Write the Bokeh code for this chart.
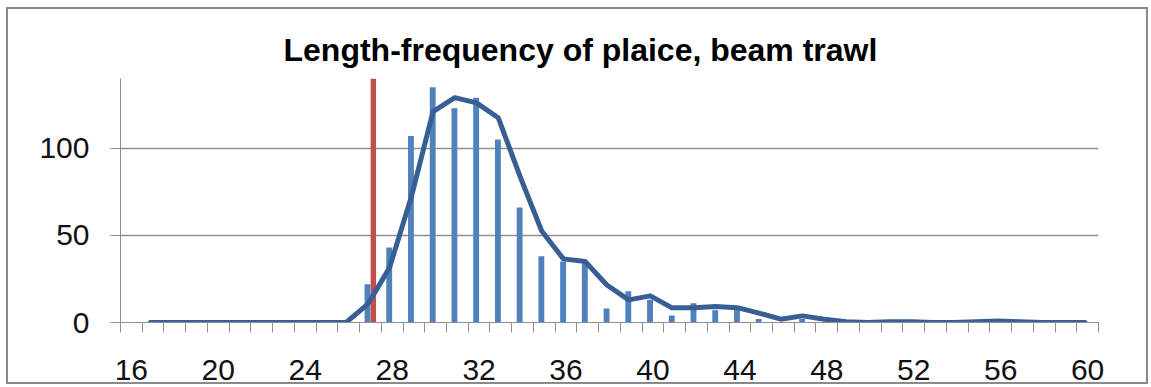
from bokeh.plotting import figure
from bokeh.models import ColumnDataSource, Range1d, FixedTicker, InlineStyleSheet
from bokeh.transform import dodge
from bokeh.embed import file_html
from bokeh.resources import INLINE

# ---- data ----
lengths = list(range(16, 61))
counts = [0, 0, 0, 0, 0, 0, 0, 0, 0, 0, 0,
          22, 43, 107, 135, 123, 129, 105, 66, 38, 35, 34,
          8, 18, 13, 4, 11, 7, 8, 2, 0, 2, 0,
          0, 0, 0, 1, 0, 0, 0, 1, 0, 0, 0, 0]
smooth_lengths = list(range(17, 61))
smooth = [0, 0, 0, 0, 0, 0, 0, 0, 0, 0,
          10.5, 31.5, 72, 121, 129, 126, 117.5, 84, 52.5, 36.5, 35,
          21.5, 13, 15.3, 8.4, 8.4, 9.2, 8.5, 5.4, 1.9, 3.8, 1.9,
          0.4, 0, 0.4, 0.4, 0, 0, 0.4, 0.8, 0.4, 0, 0, 0]
mls_length = [27]
mls_height = [140]
x_tick_values = list(range(16, 61, 4))
x_tick_labels = [str(v) for v in x_tick_values]
y_tick_values = [0, 50, 100]

GRAY = "#8f8f8f"
BLUE = "#4f81bd"
RED = "#c0504d"
LINE = "#385f94"
FONT = "Liberation Sans"

frame_css = InlineStyleSheet(css="""
:host::after {
  content: "";
  position: absolute;
  left: 6px; top: 7px; right: 3px; bottom: 3px;
  border: 2px solid #8a8a8a;
  pointer-events: none;
}
""")

p = figure(width=1151, height=387, output_backend="svg", toolbar_location=None,
           x_range=Range1d(15.5, 60.5), y_range=Range1d(0, 140),
           min_border_left=120, min_border_right=53, min_border_top=78,
           min_border_bottom=65, title="Length-frequency of plaice, beam trawl",
           stylesheets=[frame_css])
p.outline_line_color = None
p.background_fill_color = "white"
p.border_fill_color = "white"

p.title.align = "left"
p.title.offset = 163
p.title.text_font = FONT
p.title.text_font_size = "32px"
p.title.text_font_style = "bold"
p.title.text_color = "#000000"
p.title.standoff = 22

bars = ColumnDataSource(dict(x=lengths, top=counts))
p.vbar(x=dodge("x", -0.135, range=p.x_range), top="top", width=0.27, source=bars,
       fill_color=BLUE, line_color=None)
mls = ColumnDataSource(dict(x=mls_length, top=mls_height))
p.vbar(x=dodge("x", 0.135, range=p.x_range), top="top", width=0.25, source=mls,
       fill_color=RED, line_color=None)
ln = ColumnDataSource(dict(x=smooth_lengths, y=smooth))
p.line(x=dodge("x", -0.12, range=p.x_range), y="y", source=ln, line_color=LINE,
       line_width=5, line_cap="round", line_join="round")

# x axis
xa = p.xaxis[0]
xa.ticker = FixedTicker(ticks=x_tick_values,
                        minor_ticks=[v - 0.5 for v in lengths] + [lengths[-1] + 0.5])
xa.major_label_overrides = {v: l for v, l in zip(x_tick_values, x_tick_labels)}
xa.major_tick_line_color = None
xa.minor_tick_in = 0
xa.minor_tick_out = 10
xa.minor_tick_line_color = GRAY
xa.axis_line_color = GRAY
xa.major_label_text_font = FONT
xa.major_label_text_font_size = "30px"
xa.major_label_text_color = "#111111"
xa.major_label_standoff = 27
p.xgrid.grid_line_color = None

# y axis
ya = p.yaxis[0]
ya.ticker = FixedTicker(ticks=y_tick_values, minor_ticks=[])
ya.major_tick_in = 0
ya.major_tick_out = 10
ya.major_tick_line_color = GRAY
ya.axis_line_color = GRAY
ya.major_label_text_font = FONT
ya.major_label_text_font_size = "30px"
ya.major_label_text_color = "#111111"
ya.major_label_standoff = 21
p.ygrid.ticker = FixedTicker(ticks=[50, 100])
p.ygrid.grid_line_color = GRAY
p.ygrid.grid_line_width = 1.3

open("out.html", "w").write(file_html(p, INLINE))
